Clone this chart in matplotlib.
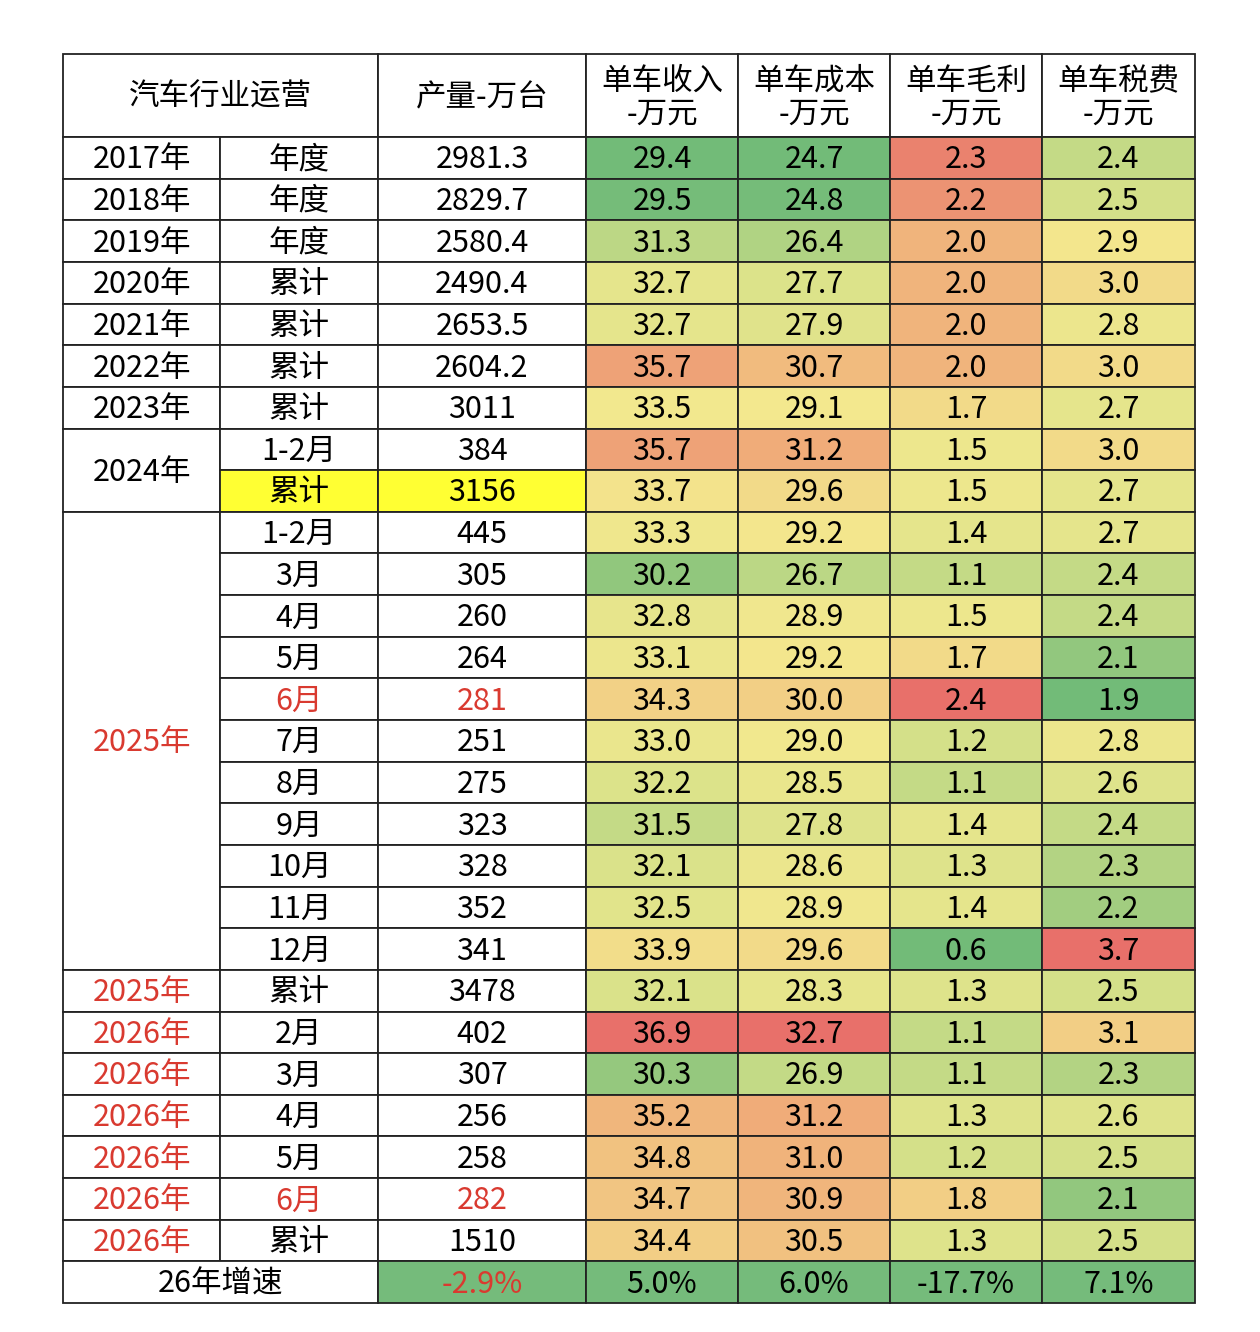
import matplotlib
matplotlib.use("Agg")
import matplotlib.pyplot as plt
from matplotlib.patches import Rectangle
from matplotlib.colors import LinearSegmentedColormap
import numpy as np

plt.rcParams['font.family'] = ['Noto Sans CJK SC', 'DejaVu Sans']

years = ["2017年","2018年","2019年","2020年","2021年","2022年","2023年","2024年","2024年"] + ["2025年"]*11 + ["2025年"] + ["2026年"]*6
periods = ["年度","年度","年度","累计","累计","累计","累计","1-2月","累计","1-2月","3月","4月","5月","6月","7月","8月","9月","10月","11月","12月","累计","2月","3月","4月","5月","6月","累计"]
output = ["2981.3","2829.7","2580.4","2490.4","2653.5","2604.2","3011","384","3156","445","305","260","264","281","251","275","323","328","352","341","3478","402","307","256","258","282","1510"]
revenue = [29.4,29.5,31.3,32.7,32.7,35.7,33.5,35.7,33.7,33.3,30.2,32.8,33.1,34.3,33.0,32.2,31.5,32.1,32.5,33.9,32.1,36.9,30.3,35.2,34.8,34.7,34.4]
cost = [24.7,24.8,26.4,27.7,27.9,30.7,29.1,31.2,29.6,29.2,26.7,28.9,29.2,30.0,29.0,28.5,27.8,28.6,28.9,29.6,28.3,32.7,26.9,31.2,31.0,30.9,30.5]
margin = [2.3,2.2,2.0,2.0,2.0,2.0,1.7,1.5,1.5,1.4,1.1,1.5,1.7,2.4,1.2,1.1,1.4,1.3,1.4,0.6,1.3,1.1,1.1,1.3,1.2,1.8,1.3]
tax = [2.4,2.5,2.9,3.0,2.8,3.0,2.7,3.0,2.7,2.7,2.4,2.4,2.1,1.9,2.8,2.6,2.4,2.3,2.2,3.7,2.5,3.1,2.3,2.6,2.5,2.1,2.5]
growth_label = "26年增速"
growth = ["-2.9%","5.0%","6.0%","-17.7%","7.1%"]
headers = ["汽车行业运营","产量-万台","单车收入\n-万元","单车成本\n-万元","单车毛利\n-万元","单车税费\n-万元"]

RED = "#d93a30"
cmap = LinearSegmentedColormap.from_list("ryg", [(0, "#72bb78"), (0.35, "#d9e28a"), (0.55, "#f3e88e"), (0.8, "#f0b07a"), (1, "#e8706a")])

fig = plt.figure(figsize=(12.6, 13.32), dpi=100)
ax = fig.add_axes([0, 0, 1, 1])
ax.set_xlim(0, 1260); ax.set_ylim(1332, 0); ax.axis("off")

xs = [63, 220, 378, 586, 738, 890, 1042, 1195]
y0, yh = 54, 137
nrow = len(periods) + 1
rh = (1303 - yh) / nrow
FS = 22

def ry(i): return yh + i * rh

def cell(x1, x2, y1, y2, text="", color="white", tc="black", fs=FS, fw="medium"):
    ax.add_patch(Rectangle((x1, y1), x2 - x1, y2 - y1, facecolor=color, edgecolor="#222222", lw=1.3))
    if text:
        ax.text((x1 + x2) / 2, (y1 + y2) / 2 + 2, text, ha="center", va="center", fontsize=fs,
                color=tc, linespacing=1.05, fontweight=fw)

# header
cell(xs[0], xs[2], y0, yh, headers[0])
for j in range(1, 6):
    cell(xs[j + 1], xs[j + 2], y0, yh, headers[j])

i = 0
n = len(periods)
while i < n:
    j = i
    if 9 <= i < 20:
        j = 19
    elif i == 7:
        j = 8
    red = years[i] in ("2025年", "2026年")
    cell(xs[0], xs[1], ry(i), ry(j + 1), years[i], tc=RED if red else "black", fw="normal" if red else "medium")
    i = j + 1

cols = [revenue, cost, margin, tax]
for r in range(n):
    red = periods[r] == "6月" and r >= 9
    hl = "#ffff33" if r == 8 else "white"
    cell(xs[1], xs[2], ry(r), ry(r + 1), periods[r], color=hl, tc=RED if red else "black")
    cell(xs[2], xs[3], ry(r), ry(r + 1), output[r], color=hl, tc=RED if red else "black")
    for c, vals in enumerate(cols):
        v = np.array(vals)
        t = (vals[r] - v.min()) / (v.max() - v.min())
        cell(xs[3 + c], xs[4 + c], ry(r), ry(r + 1), "%.1f" % vals[r], color=cmap(t))

r = n
cell(xs[0], xs[2], ry(r), ry(r + 1), growth_label, fw="normal")
for c, g in enumerate(growth):
    cell(xs[2 + c], xs[3 + c], ry(r), ry(r + 1), g, color="#75bb7b", tc=RED if c == 0 else "black")

fig.savefig("out.png", dpi=100, facecolor="white")
